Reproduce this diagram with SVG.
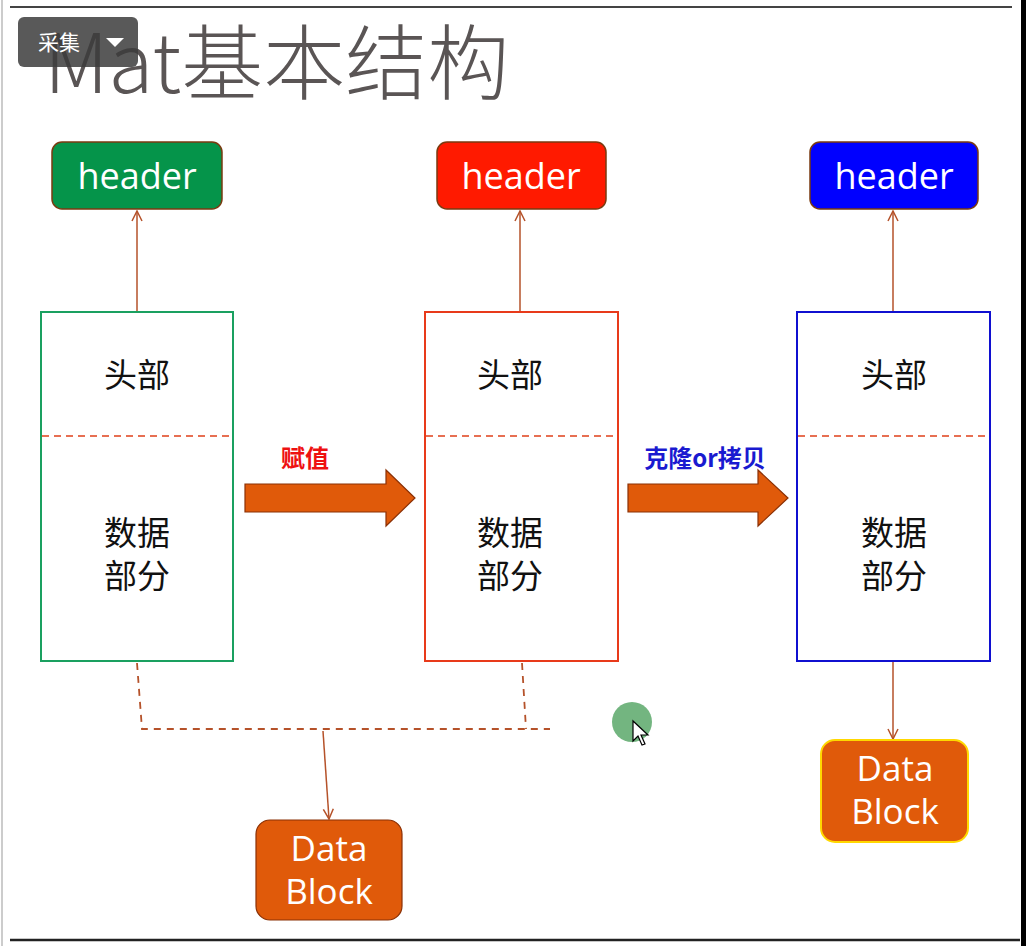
<svg xmlns="http://www.w3.org/2000/svg" width="1026" height="946" viewBox="0 0 1026 946">
<defs>
<style>
.hdr{stroke:#7a3a10;stroke-width:1.5}
.hdrt{font-family:"Open Sans","Noto Sans",sans-serif;font-size:36px;fill:#ffffff;text-anchor:middle}
.cjk{font-family:"Noto Sans CJK SC",sans-serif;font-size:33px;fill:#111;text-anchor:middle}
.conn{stroke:#b5522a;stroke-width:1.5;fill:none}
.dash{stroke:#b5522a;stroke-width:1.8;fill:none;stroke-dasharray:7 6}
.sep{stroke:#e0401a;stroke-width:1.5;stroke-dasharray:7 5}
.big{fill:#e05a0a;stroke:#8a3005;stroke-width:1.2}
.dbt{font-family:"Open Sans","Noto Sans",sans-serif;font-size:35px;fill:#ffffff;text-anchor:middle}
</style>
<marker id="ah" viewBox="0 0 12 12" refX="11" refY="6" markerWidth="12" markerHeight="12" markerUnits="userSpaceOnUse" orient="auto">
<path d="M1,1 L11,6 L1,11" fill="none" stroke="#b5522a" stroke-width="1.5"/>
</marker>
</defs>
<rect width="1026" height="946" fill="#ffffff"/>
<line x1="10" y1="7" x2="1012" y2="7" stroke="#444" stroke-width="2"/>
<line x1="10" y1="940" x2="1020" y2="940" stroke="#222" stroke-width="2.5"/>
<line x1="2" y1="0" x2="2" y2="946" stroke="#999" stroke-width="1"/>
<rect x="1021" y="0" width="5" height="946" fill="#000"/>

<g id="title">
<text x="44" y="93" font-family="Noto Sans CJK SC,sans-serif" font-size="82" font-weight="300" fill="#5a5555">Mat基本结构</text>
</g>
<g id="overlay-button">
<rect x="18" y="17" width="120" height="50" rx="6" fill="#3c3c3c" fill-opacity="0.85"/>
<text x="38" y="50" font-family="Noto Sans CJK SC,sans-serif" font-size="21" fill="#ffffff">采集</text>
<path d="M106,38 L124,38 L115,47 Z" fill="#ffffff"/>
</g>

<g id="connectors">
<line class="conn" x1="137" y1="312" x2="137" y2="211" marker-end="url(#ah)"/>
<line class="conn" x1="520" y1="312" x2="520" y2="211" marker-end="url(#ah)"/>
<line class="conn" x1="893" y1="312" x2="893" y2="211" marker-end="url(#ah)"/>
<path class="dash" d="M137,663 L142,729 L550,729"/>
<path class="dash" d="M522,663 L526,729"/>
<line class="conn" x1="323" y1="731" x2="329" y2="819" marker-end="url(#ah)"/>
<line class="conn" x1="893" y1="662" x2="893" y2="739" marker-end="url(#ah)"/>
<path class="big" d="M245,484 L386,484 L386,470 L415,498 L386,526 L386,512 L245,512 Z"/>
<path class="big" d="M628,484 L758,484 L758,470 L788,498 L758,526 L758,512 L628,512 Z"/>
<text x="305" y="467" font-family="Noto Sans CJK SC,sans-serif" font-size="24" font-weight="bold" fill="#ee1111" text-anchor="middle">赋值</text>
<text x="705" y="467" font-family="Noto Sans CJK SC,sans-serif" font-size="24" font-weight="bold" fill="#1a1ad0" text-anchor="middle">克隆or拷贝</text>
</g>

<g id="header-green">
<rect class="hdr" x="52" y="142" width="170" height="67" rx="10" fill="#05944a"/>
<text class="hdrt" x="137" y="189">header</text>
</g>
<g id="header-red">
<rect class="hdr" x="437" y="142" width="169" height="67" rx="10" fill="#ff1a00"/>
<text class="hdrt" x="521" y="189">header</text>
</g>
<g id="header-blue">
<rect class="hdr" x="810" y="142" width="168" height="67" rx="10" fill="#0000ff"/>
<text class="hdrt" x="894" y="189">header</text>
</g>

<g id="mat-green">
<rect x="41" y="312" width="192" height="349" fill="#fff" stroke="#1aa060" stroke-width="2"/>
<line class="sep" x1="42" y1="436" x2="232" y2="436"/>
<text class="cjk" x="137" y="387">头部</text>
<text class="cjk"><tspan x="137" y="545">数据</tspan><tspan x="137" y="588">部分</tspan></text>
</g>
<g id="mat-red">
<rect x="425" y="312" width="193" height="349" fill="#fff" stroke="#e83a1a" stroke-width="2"/>
<line class="sep" x1="426" y1="436" x2="617" y2="436"/>
<text class="cjk" x="510" y="387">头部</text>
<text class="cjk"><tspan x="510" y="545">数据</tspan><tspan x="510" y="588">部分</tspan></text>
</g>
<g id="mat-blue">
<rect x="797" y="312" width="193" height="349" fill="#fff" stroke="#1010d0" stroke-width="2"/>
<line class="sep" x1="798" y1="436" x2="989" y2="436"/>
<text class="cjk" x="894" y="387">头部</text>
<text class="cjk"><tspan x="894" y="545">数据</tspan><tspan x="894" y="588">部分</tspan></text>
</g>

<g id="datablock-shared">
<rect x="256" y="820" width="146" height="100" rx="14" fill="#e05a0a" stroke="#8a3005" stroke-width="1.2"/>
<text class="dbt"><tspan x="329" y="861">Data</tspan><tspan x="329" y="904">Block</tspan></text>
</g>
<g id="datablock-copy">
<rect x="821" y="740" width="147" height="102" rx="14" fill="#e05a0a" stroke="#ffd800" stroke-width="2"/>
<text class="dbt"><tspan x="895" y="781">Data</tspan><tspan x="895" y="824">Block</tspan></text>
</g>

<g id="cursor">
<circle cx="632" cy="722" r="20" fill="#5aa86a" fill-opacity="0.85"/>
<path d="M633,721 L633,741 L638,736 L642,745 L645,744 L641,735 L648,735 Z" fill="#ffffff" stroke="#000" stroke-width="1.2"/>
</g>
</svg>
